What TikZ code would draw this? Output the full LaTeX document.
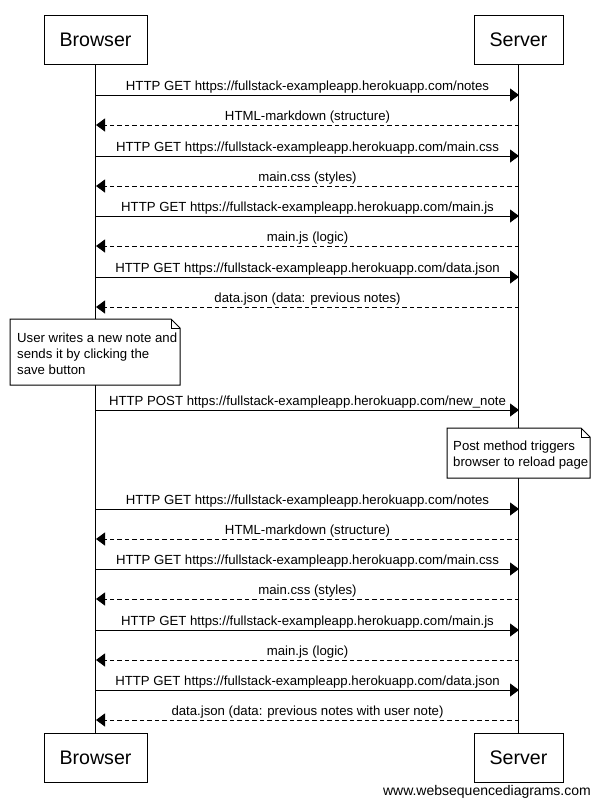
\documentclass[tikz,border=0pt]{standalone}
\usepackage{fontspec}
\setmainfont{Liberation Sans}
\usetikzlibrary{arrows.meta}
\begin{document}
\begin{tikzpicture}[x=1pt,y=-1pt,
  actor/.style={draw,line width=1pt,minimum height=49pt,inner sep=0pt,font=\fontsize{19.6}{22}\selectfont},
  life/.style={line width=1pt},
  msg/.style={line width=1pt,-{Triangle[length=9pt,width=13pt]}},
  reply/.style={msg,dash pattern=on 4.5pt off 3pt},
  lbl/.style={above,inner sep=1.5pt,font=\fontsize{13.2}{15}\selectfont},
  notetext/.style={anchor=north west,align=left,inner sep=0pt,font=\fontsize{13.2}{15.8}\selectfont},
  notebox/.style={draw,line width=1pt,fill=white}
]
\useasboundingbox (0,0) rectangle (600,807);
% actors
\node[actor,minimum width=103pt] (bt) at (95.5,39.5) {Browser};
\node[actor,minimum width=89pt] (st) at (518.5,39.5) {Server};
\node[actor,minimum width=103pt] (bb) at (95.5,757.5) {Browser};
\node[actor,minimum width=89pt] (sb) at (518.5,757.5) {Server};
\draw[life] (bt.south) -- (bb.north);
\draw[life] (st.south) -- (sb.north);
% messages
\foreach \i/\y in {1/95,2/125,3/156,4/186,5/216,6/246,7/277,8/307,9/410,10/509,11/539,12/569,13/599,14/630,15/660,16/690,17/720}{
  \coordinate (b\i) at (96,\y);
  \coordinate (s\i) at (519,\y);
}
\draw[msg] (b1) -- (s1) node[lbl,midway] {HTTP GET https://fullstack-exampleapp.herokuapp.com/notes};
\draw[reply] (s2) -- (b2) node[lbl,midway] {HTML-markdown (structure)};
\draw[msg] (b3) -- (s3) node[lbl,midway] {HTTP GET https://fullstack-exampleapp.herokuapp.com/main.css};
\draw[reply] (s4) -- (b4) node[lbl,midway] {main.css (styles)};
\draw[msg] (b5) -- (s5) node[lbl,midway] {HTTP GET https://fullstack-exampleapp.herokuapp.com/main.js};
\draw[reply] (s6) -- (b6) node[lbl,midway] {main.js (logic)};
\draw[msg] (b7) -- (s7) node[lbl,midway] {HTTP GET https://fullstack-exampleapp.herokuapp.com/data.json};
\draw[reply] (s8) -- (b8) node[lbl,midway] {data.json (data: previous notes)};
% note 1
\draw[notebox] (10,319) -- (171,319) -- (180,328) -- (180,385) -- (10,385) -- cycle;
\draw[line width=1pt] (171,319) -- (171,328) -- (180,328);
\node[notetext] (n1) at (17,333) {User writes a new note and\\sends it by clicking the\\save button};
\draw[msg] (b9) -- (s9) node[lbl,midway] {HTTP POST https://fullstack-exampleapp.herokuapp.com/new\_note};
% note 2
\draw[notebox] (447,428) -- (581,428) -- (590,437) -- (590,478) -- (447,478) -- cycle;
\draw[line width=1pt] (581,428) -- (581,437) -- (590,437);
\node[notetext] (n2) at (453,441) {Post method triggers\\browser to reload page};
\draw[msg] (b10) -- (s10) node[lbl,midway] {HTTP GET https://fullstack-exampleapp.herokuapp.com/notes};
\draw[reply] (s11) -- (b11) node[lbl,midway] {HTML-markdown (structure)};
\draw[msg] (b12) -- (s12) node[lbl,midway] {HTTP GET https://fullstack-exampleapp.herokuapp.com/main.css};
\draw[reply] (s13) -- (b13) node[lbl,midway] {main.css (styles)};
\draw[msg] (b14) -- (s14) node[lbl,midway] {HTTP GET https://fullstack-exampleapp.herokuapp.com/main.js};
\draw[reply] (s15) -- (b15) node[lbl,midway] {main.js (logic)};
\draw[msg] (b16) -- (s16) node[lbl,midway] {HTTP GET https://fullstack-exampleapp.herokuapp.com/data.json};
\draw[reply] (s17) -- (b17) node[lbl,midway] {data.json (data: previous notes with user note)};
% footer
\node[anchor=east,inner sep=0pt,font=\fontsize{14}{16}\selectfont] (ft) at (591,792) {www.websequencediagrams.com};
\end{tikzpicture}
\end{document}
